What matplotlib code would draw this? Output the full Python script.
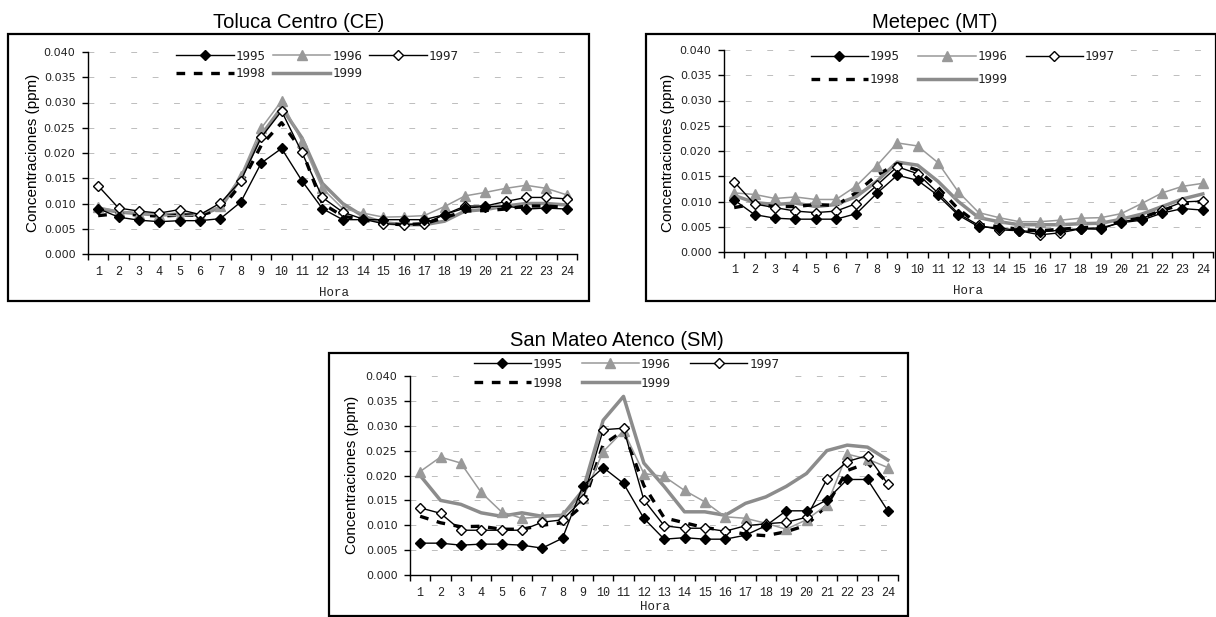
import matplotlib
matplotlib.use('Agg')
import matplotlib.pyplot as plt
import numpy as np
from matplotlib.patches import Rectangle
from matplotlib.lines import Line2D

W, H = 1216, 617

hours = list(range(1, 25))
hour_labels = [str(h) for h in hours]
years = ['1995', '1996', '1997', '1998', '1999']
yticks = [0.000, 0.005, 0.010, 0.015, 0.020, 0.025, 0.030, 0.035, 0.040]
ytick_labels = ['0.000', '0.005', '0.010', '0.015', '0.020', '0.025', '0.030', '0.035', '0.040']
titles = ['Toluca Centro (CE)', 'Metepec (MT)', 'San Mateo Atenco (SM)']
ylabel = 'Concentraciones (ppm)'
xlabel = 'Hora'

# Toluca Centro (CE)
ce_1995 = [0.0090, 0.0073, 0.0067, 0.0064, 0.0066, 0.0066, 0.0070, 0.0103, 0.0180, 0.0209, 0.0145, 0.0090,
           0.0068, 0.0068, 0.0068, 0.0068, 0.0068, 0.0078, 0.0091, 0.0094, 0.0095, 0.0089, 0.0091, 0.0089]
ce_1996 = [0.0093, 0.0085, 0.0080, 0.0078, 0.0075, 0.0078, 0.0095, 0.0155, 0.0249, 0.0303, 0.0222, 0.0130,
           0.0090, 0.0081, 0.0073, 0.0074, 0.0076, 0.0094, 0.0115, 0.0122, 0.0130, 0.0136, 0.0130, 0.0117]
ce_1997 = [0.0135, 0.0091, 0.0085, 0.0081, 0.0088, 0.0078, 0.0101, 0.0145, 0.0231, 0.0283, 0.0201, 0.0112,
           0.0083, 0.0069, 0.0060, 0.0058, 0.0060, 0.0078, 0.0095, 0.0095, 0.0104, 0.0112, 0.0112, 0.0109]
ce_1998 = [0.0076, 0.0080, 0.0077, 0.0075, 0.0077, 0.0077, 0.0088, 0.0138, 0.0215, 0.0260, 0.0205, 0.0100,
           0.0075, 0.0068, 0.0060, 0.0058, 0.0060, 0.0072, 0.0085, 0.0086, 0.0089, 0.0095, 0.0095, 0.0092]
ce_1999 = [0.0090, 0.0083, 0.0080, 0.0077, 0.0079, 0.0077, 0.0092, 0.0150, 0.0235, 0.0290, 0.0230, 0.0140,
           0.0100, 0.0075, 0.0062, 0.0058, 0.0058, 0.0065, 0.0085, 0.0088, 0.0095, 0.0100, 0.0100, 0.0097]

# Metepec (MT)
mt_1995 = [0.0103, 0.0074, 0.0067, 0.0065, 0.0065, 0.0065, 0.0076, 0.0116, 0.0152, 0.0142, 0.0112, 0.0073,
           0.0050, 0.0048, 0.0042, 0.0040, 0.0043, 0.0046, 0.0048, 0.0058, 0.0063, 0.0077, 0.0086, 0.0083]
mt_1996 = [0.0117, 0.0114, 0.0106, 0.0109, 0.0104, 0.0104, 0.0131, 0.0171, 0.0216, 0.0210, 0.0177, 0.0119,
           0.0078, 0.0068, 0.0060, 0.0060, 0.0063, 0.0067, 0.0068, 0.0076, 0.0096, 0.0117, 0.0130, 0.0136]
mt_1997 = [0.0139, 0.0095, 0.0088, 0.0081, 0.0078, 0.0081, 0.0096, 0.0132, 0.0169, 0.0155, 0.0117, 0.0076,
           0.0053, 0.0044, 0.0042, 0.0034, 0.0038, 0.0046, 0.0045, 0.0060, 0.0066, 0.0083, 0.0099, 0.0101]
mt_1998 = [0.0088, 0.0095, 0.0090, 0.0090, 0.0094, 0.0092, 0.0118, 0.0152, 0.0175, 0.0162, 0.0128, 0.0085,
           0.0055, 0.0050, 0.0045, 0.0042, 0.0045, 0.0048, 0.0050, 0.0060, 0.0068, 0.0082, 0.0095, 0.0100]
mt_1999 = [0.0112, 0.0098, 0.0094, 0.0097, 0.0090, 0.0094, 0.0110, 0.0140, 0.0178, 0.0172, 0.0140, 0.0100,
           0.0068, 0.0060, 0.0054, 0.0054, 0.0054, 0.0056, 0.0057, 0.0065, 0.0075, 0.0090, 0.0105, 0.0115]

# San Mateo Atenco (SM)
sm_1995 = [0.0064, 0.0064, 0.0060, 0.0062, 0.0062, 0.0060, 0.0054, 0.0074, 0.0179, 0.0216, 0.0184, 0.0114,
           0.0072, 0.0075, 0.0072, 0.0072, 0.0080, 0.0099, 0.0129, 0.0129, 0.0151, 0.0192, 0.0192, 0.0129]
sm_1996 = [0.0208, 0.0237, 0.0225, 0.0166, 0.0127, 0.0114, 0.0117, 0.0120, 0.0154, 0.0248, 0.0290, 0.0204,
           0.0198, 0.0170, 0.0147, 0.0117, 0.0114, 0.0104, 0.0092, 0.0111, 0.0141, 0.0243, 0.0233, 0.0216]
sm_1997 = [0.0135, 0.0124, 0.0090, 0.0090, 0.0090, 0.0090, 0.0106, 0.0111, 0.0152, 0.0292, 0.0295, 0.0151,
           0.0099, 0.0094, 0.0094, 0.0088, 0.0099, 0.0103, 0.0106, 0.0116, 0.0192, 0.0228, 0.0240, 0.0183]
sm_1998 = [0.0118, 0.0105, 0.0097, 0.0098, 0.0092, 0.0092, 0.0100, 0.0105, 0.0140, 0.0262, 0.0290, 0.0180,
           0.0115, 0.0105, 0.0095, 0.0090, 0.0082, 0.0079, 0.0087, 0.0100, 0.0140, 0.0210, 0.0225, 0.0185]
sm_1999 = [0.0200, 0.0150, 0.0142, 0.0125, 0.0118, 0.0125, 0.0118, 0.0120, 0.0170, 0.0311, 0.0359, 0.0225,
           0.0178, 0.0127, 0.0127, 0.0120, 0.0144, 0.0157, 0.0178, 0.0204, 0.0250, 0.0261, 0.0257, 0.0231]

panels_data = [
    [ce_1995, ce_1996, ce_1997, ce_1998, ce_1999],
    [mt_1995, mt_1996, mt_1997, mt_1998, mt_1999],
    [sm_1995, sm_1996, sm_1997, sm_1998, sm_1999],
]


def fx(x):
    return x / W


def fy(y):
    return 1 - y / H


fig = plt.figure(figsize=(W / 100, H / 100), dpi=100)
fig.patch.set_facecolor('white')

# layout in pixels: axes (left, top, right, bottom), frame (l, t, r, b)
axes_px = [(88, 52, 577, 254), (724, 50, 1213, 252), (410, 376, 898, 575)]
frame_px = [(8, 34, 589, 301), (646, 34, 1216, 301), (329, 353, 908, 616)]
title_px = [(299, 22), (935, 22), (617, 340)]
ylab_px = [(33, 153), (668, 153), (352, 475)]
xlab_px = [(334, 293), (968, 291), (655, 607)]
leg_px = [(174, 47), (808, 48), (471, 355)]
leg_colsp = [0.55, 1.45, 1.5]
leg_lsp = [0.35, 0.75, 0.5]

GRAY1 = '#999999'
GRAY2 = '#8c8c8c'

for i in range(3):
    l, t, r, b = axes_px[i]
    ax = fig.add_axes([fx(l), fy(b), fx(r) - fx(l), fy(t) - fy(b)])
    d = panels_data[i]
    ax.plot(hours, d[4], color=GRAY2, lw=2.5, zorder=2, label=years[4])
    ax.plot(hours, d[3], color='black', lw=2.4, dashes=(2.6, 2.6), zorder=3, label=years[3])
    ax.plot(hours, d[1], color=GRAY1, lw=1.1, marker='^', ms=7, mfc=GRAY1, mec=GRAY1,
            zorder=4, label=years[1])
    ax.plot(hours, d[2], color='black', lw=1.0, marker='D', ms=5, mfc='white', mec='black',
            mew=1.0, zorder=5, label=years[2])
    ax.plot(hours, d[0], color='black', lw=1.0, marker='D', ms=5, mfc='black', mec='black',
            zorder=6, label=years[0])

    ax.set_xlim(0.5, 24.5)
    ax.set_ylim(0, 0.040)
    ax.set_yticks(yticks)
    ax.set_yticklabels(ytick_labels, fontsize=8, family='DejaVu Sans', color='#222222')
    ax.set_xticks(np.arange(0.5, 25, 1))
    ax.set_xticklabels([])
    ax.set_xticks(hours, minor=True)
    ax.set_xticklabels(hour_labels, minor=True, fontsize=8.5, family='Liberation Mono', color='#222222')
    ax.tick_params(axis='x', which='major', direction='out', length=4, width=1, color='black')
    ax.tick_params(axis='x', which='minor', length=0, pad=8.5)
    ax.tick_params(axis='y', which='major', direction='out', length=4, width=1, pad=5, color='black')
    for s in ['top', 'right']:
        ax.spines[s].set_visible(False)
    for s in ['left', 'bottom']:
        ax.spines[s].set_color('black')
        ax.spines[s].set_linewidth(1.0)
    ax.set_axisbelow(True)
    ax.yaxis.grid(True, color='#bdbdbd', lw=0.7, linestyle=(0, (6, 16)))
    ax.set_facecolor('none')

    handles, labels = ax.get_legend_handles_labels()
    hmap = dict(zip(labels, handles))
    order = ['1995', '1998', '1996', '1999', '1997']
    lx, ly = leg_px[i]
    leg = fig.legend([hmap[k] for k in order], order, loc='upper left',
                     bbox_to_anchor=(fx(lx), fy(ly)), bbox_transform=fig.transFigure,
                     ncol=3, frameon=True, facecolor='white', edgecolor='none', framealpha=1,
                     fancybox=False, borderpad=0.2, borderaxespad=0, handlelength=4.6,
                     handletextpad=0.15, columnspacing=leg_colsp[i], labelspacing=leg_lsp[i],
                     prop={'family': 'DejaVu Sans Mono', 'size': 9}, numpoints=1)
    for txt in leg.get_texts():
        txt.set_color('#222222')

    tx, ty = title_px[i]
    fig.text(fx(tx), fy(ty), titles[i], ha='center', va='center', fontsize=14.5,
             family='Liberation Sans', color='black')
    yx, yy = ylab_px[i]
    fig.text(fx(yx), fy(yy), ylabel, ha='center', va='center', rotation=90, fontsize=11,
             family='Liberation Sans', color='black')
    xx, xy = xlab_px[i]
    fig.text(fx(xx), fy(xy), xlabel, ha='center', va='center', fontsize=9,
             family='Liberation Mono', color='#222222')

    fl, ft, fr, fb = frame_px[i]
    rect = Rectangle((fx(fl), fy(fb)), fx(fr) - fx(fl), fy(ft) - fy(fb), transform=fig.transFigure,
                     fill=False, edgecolor='black', lw=1.6, zorder=10)
    fig.patches.append(rect)

fig.savefig('out.png', dpi=100, facecolor='white')
